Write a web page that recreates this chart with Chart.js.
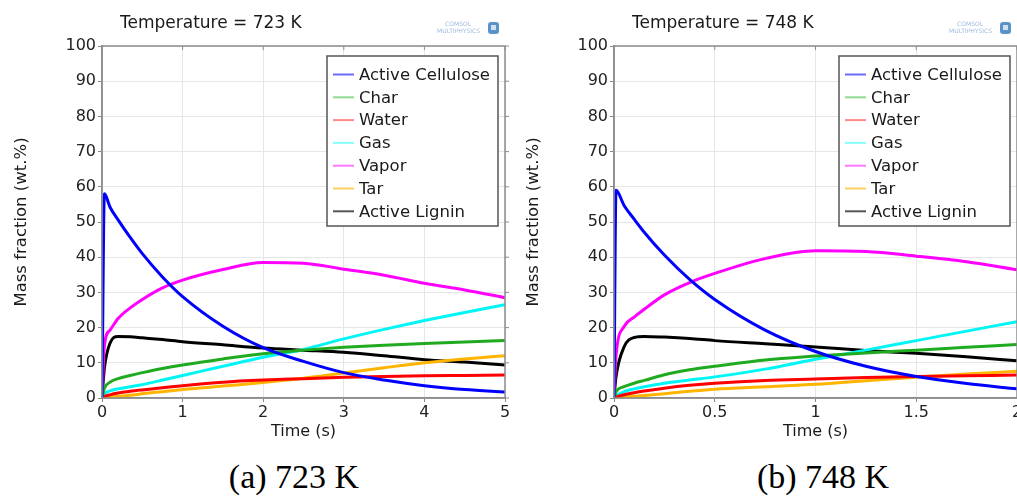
<!DOCTYPE html>
<html>
<head>
<meta charset="utf-8">
<script src="https://cdn.jsdelivr.net/npm/chart.js@4.4.1/dist/chart.umd.min.js"></script>
<style>
  html, body { margin: 0; padding: 0; background: #fff; }
  body { width: 1017px; height: 498px; overflow: hidden; position: relative; }
  .panel { position: absolute; top: 0; height: 445px; }
  #panelA { left: 0; width: 517px; }
  #panelB { left: 512px; width: 525px; }
  .caption {
    position: absolute; top: 458px;
    font-family: 'Liberation Serif', 'Times New Roman', serif;
    font-size: 34px; color: #000;
    transform: translateX(-50%); white-space: nowrap;
  }
</style>
</head>
<body>
<div class="panel" id="panelA"><canvas id="chartA"></canvas></div>
<div class="panel" id="panelB"><canvas id="chartB"></canvas></div>
<div class="caption" style="left:294px">(a) 723 K</div>
<div class="caption" style="left:823px">(b) 748 K</div>

<script>
// series names (legend order)
const seriesNames = ['Active Cellulose', 'Char', 'Water', 'Gas', 'Vapor', 'Tar', 'Active Lignin'];

// (a) 723 K - time (s) and mass fractions (wt.%)
const timeA  = [0, 0.03, 0.1, 0.2, 0.35, 0.5, 0.75, 1, 1.5, 2, 2.5, 3, 3.5, 4, 4.5, 5];
const cellA  = [0, 58, 54.2, 50.6, 45.6, 41, 34.4, 28.8, 20.4, 14.3, 10.4, 7.2, 5.1, 3.5, 2.4, 1.7];
const charA  = [0, 2.8, 4.5, 5.5, 6.4, 7.2, 8.4, 9.4, 11.1, 12.6, 13.6, 14.4, 15, 15.5, 15.9, 16.3];
const waterA = [0, 0.4, 0.9, 1.4, 1.9, 2.3, 2.9, 3.5, 4.5, 5.1, 5.5, 5.9, 6.1, 6.3, 6.4, 6.5];
const gasA   = [0, 1.2, 2, 2.6, 3.2, 3.8, 5.1, 6.4, 9, 11.6, 13.8, 16.8, 19.5, 22, 24.3, 26.5];
const vapA   = [0, 15, 19.3, 22.6, 25.6, 28, 31.3, 33.5, 36.5, 38.5, 38.3, 36.6, 34.9, 32.6, 30.7, 28.5];
const tarA   = [0, 0.1, 0.3, 0.5, 0.8, 1.2, 1.8, 2.4, 3.4, 4.4, 5.6, 7.1, 8.6, 10, 11.1, 12];
const ligA   = [0, 8.5, 15.6, 17.5, 17.4, 17.1, 16.6, 16, 15.1, 14.2, 13.6, 13, 12, 10.9, 10.2, 9.4];

// (b) 748 K
const timeB  = [0, 0.01, 0.05, 0.1, 0.15, 0.25, 0.375, 0.5, 0.75, 1, 1.25, 1.5, 1.75, 2];
const cellB  = [0, 59, 54.7, 50.8, 47.1, 40.6, 33.7, 28, 19.3, 13.2, 9, 6.1, 4.1, 2.6];
const charB  = [0, 1.8, 3.2, 4.2, 5, 6.6, 8, 9, 10.8, 11.9, 12.8, 13.6, 14.4, 15.2];
const waterB = [0, 0.3, 0.9, 1.5, 2, 2.8, 3.6, 4.2, 5, 5.4, 5.8, 6.1, 6.3, 6.5];
const gasB   = [0, 0.6, 1.8, 2.6, 3.2, 4.2, 5.1, 6, 8.2, 11, 13.6, 16.3, 19, 21.7];
const vapB   = [0, 12, 20.3, 23, 25.2, 29.3, 32.8, 35.4, 39.6, 41.8, 41.6, 40.3, 38.7, 36.4];
const tarB   = [0, 0.05, 0.3, 0.5, 0.7, 1.2, 1.9, 2.5, 3.2, 3.9, 4.9, 5.9, 6.8, 7.6];
const ligB   = [0, 6, 14.5, 17.2, 17.5, 17.3, 16.9, 16.3, 15.4, 14.5, 13.5, 12.7, 11.7, 10.6];

const lineColors   = ['#0000ff', '#1faa1f', '#ff0000', '#00f5f5', '#ff00ff', '#ffb400', '#000000'];
const legendColors = ['#6b6bff', '#8fd88f', '#ff8a8a', '#8afcfc', '#ff7aff', '#ffcf60', '#555555'];

const FONT = 'DejaVu Sans';

function makeDatasets(time, series) {
    return series.map((vals, i) => ({
        label: seriesNames[i],
        data: time.map((t, k) => ({ x: t, y: vals[k] })),
        borderColor: lineColors[i],
        backgroundColor: lineColors[i],
        legendColor: legendColors[i],
        borderWidth: 3,
        pointRadius: 0,
        cubicInterpolationMode: 'monotone',
        fill: false
    }));
}

// frame, mirrored ticks, title, logo and boxed legend
const panelDeco = {
    id: 'panelDeco',
    afterDraw(chart, args, opts) {
        const { ctx, chartArea: a, scales } = chart;
        ctx.save();

        ctx.strokeStyle = '#8c8c8c';
        ctx.lineWidth = 1.5;
        ctx.strokeRect(a.left, a.top, a.right - a.left, a.bottom - a.top);

        ctx.lineWidth = 1;
        ctx.beginPath();
        scales.x.ticks.forEach((t, i) => {
            const px = scales.x.getPixelForTick(i);
            ctx.moveTo(px, a.top); ctx.lineTo(px, a.top + 4);
        });
        scales.y.ticks.forEach((t, i) => {
            const py = scales.y.getPixelForTick(i);
            ctx.moveTo(a.right, py); ctx.lineTo(a.right + 4, py);
        });
        ctx.stroke();

        // title
        ctx.fillStyle = '#1a1a1a';
        ctx.font = '17px "' + FONT + '"';
        ctx.textAlign = 'left';
        ctx.textBaseline = 'alphabetic';
        ctx.fillText(opts.title, a.left + 18, 28);

        // COMSOL mark
        ctx.fillStyle = '#9dbbdc';
        ctx.font = '6px "' + FONT + '"';
        ctx.textAlign = 'right';
        ctx.fillText('COMSOL', a.right - 34, 26);
        ctx.fillText('MULTIPHYSICS', a.right - 25, 33);
        ctx.fillStyle = '#5b93c9';
        ctx.beginPath();
        ctx.roundRect(a.right - 17, 22, 11, 12, 3);
        ctx.fill();
        ctx.fillStyle = '#cfe2f3';
        ctx.fillRect(a.right - 14, 25, 5, 5);

        // legend box
        const w = 171, h = 170;
        const lx = a.right - 7 - w, ly = a.top + 10;
        ctx.fillStyle = '#fff';
        ctx.fillRect(lx, ly, w, h);
        ctx.strokeStyle = '#555';
        ctx.lineWidth = 1.5;
        ctx.strokeRect(lx, ly, w, h);
        ctx.font = '16.5px "' + FONT + '"';
        ctx.textAlign = 'left';
        ctx.textBaseline = 'middle';
        chart.data.datasets.forEach((ds, i) => {
            const y = ly + 18.5 + i * 22.8;
            ctx.strokeStyle = ds.legendColor;
            ctx.lineWidth = 2;
            ctx.beginPath();
            ctx.moveTo(lx + 6, y); ctx.lineTo(lx + 27, y);
            ctx.stroke();
            ctx.fillStyle = '#1a1a1a';
            ctx.fillText(ds.label, lx + 32, y + 1);
        });
        ctx.restore();
    }
};

function makeChart(id, title, time, series, xMax, xStep) {
    const ctx = document.getElementById(id).getContext('2d');
    return new Chart(ctx, {
        type: 'line',
        data: { datasets: makeDatasets(time, series) },
        plugins: [panelDeco],
        options: {
            responsive: true,
            maintainAspectRatio: false,
            animation: false,
            layout: { padding: { top: 46, left: 0, right: id === 'chartA' ? 12 : 20, bottom: 0 } },
            scales: {
                x: {
                    type: 'linear',
                    min: 0,
                    max: xMax,
                    ticks: {
                        stepSize: xStep,
                        color: '#222',
                        font: { family: FONT, size: 16 },
                        padding: 1,
                        maxRotation: 0,
                        callback: v => String(v)
                    },
                    grid: { color: '#e6e6e6', tickColor: '#888', tickLength: 4 },
                    border: { color: '#8c8c8c', width: 1.5 },
                    title: {
                        display: true,
                        text: 'Time (s)',
                        color: '#1a1a1a',
                        font: { family: FONT, size: 16 },
                        padding: { top: 0, bottom: 4 }
                    },
                    afterFit(s) { s.height = 47; }
                },
                y: {
                    min: 0,
                    max: 100,
                    ticks: {
                        stepSize: 10,
                        color: '#222',
                        font: { family: FONT, size: 16 },
                        padding: 2
                    },
                    grid: { color: '#e6e6e6', tickColor: '#888', tickLength: 4 },
                    border: { color: '#8c8c8c', width: 1.5 },
                    title: {
                        display: true,
                        text: 'Mass fraction (wt.%)',
                        color: '#1a1a1a',
                        font: { family: FONT, size: 16.5 },
                        padding: { top: 12, bottom: 0 }
                    },
                    afterFit(s) { s.width = 102; }
                }
            },
            plugins: {
                legend: { display: false },
                tooltip: { enabled: false },
                panelDeco: { title: title }
            }
        }
    });
}

makeChart('chartA', 'Temperature = 723 K', timeA,
    [cellA, charA, waterA, gasA, vapA, tarA, ligA], 5, 1);
makeChart('chartB', 'Temperature = 748 K', timeB,
    [cellB, charB, waterB, gasB, vapB, tarB, ligB], 2, 0.5);
</script>
</body>
</html>
